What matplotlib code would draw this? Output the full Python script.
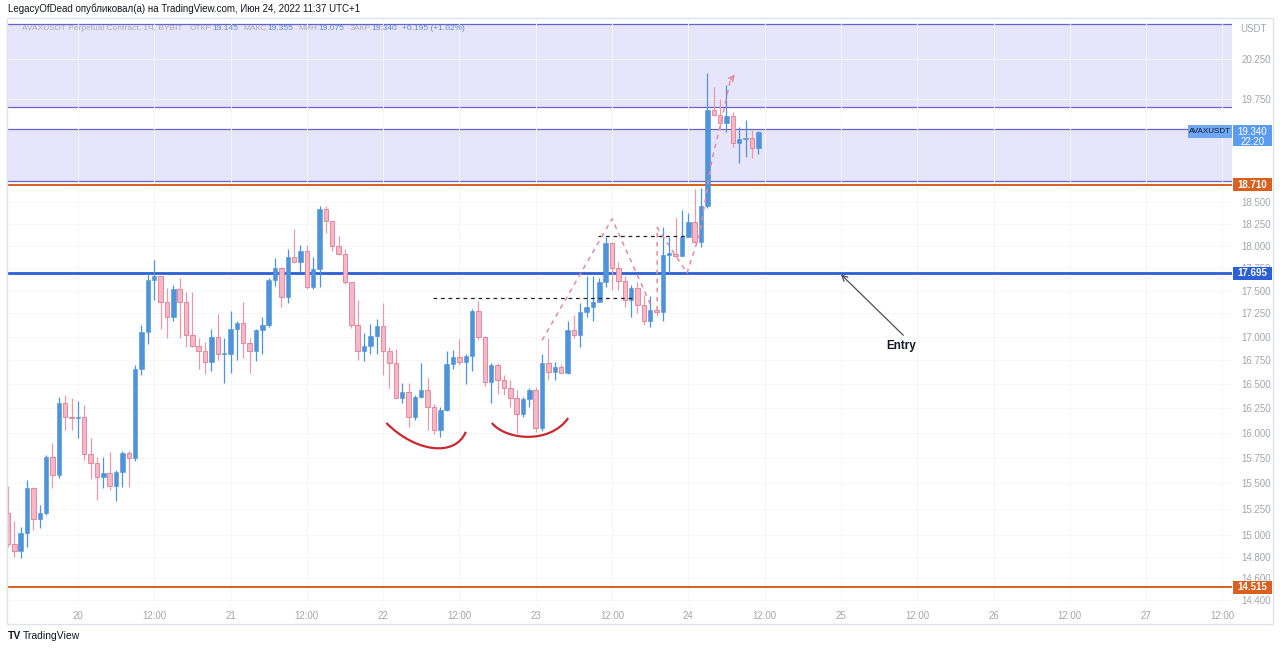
import numpy as np
import matplotlib.pyplot as plt
from matplotlib.patches import Rectangle, PathPatch
from matplotlib.path import Path
from matplotlib.ticker import FixedLocator, NullLocator, FuncFormatter

plt.rcParams['font.family'] = ['Liberation Sans Narrow', 'Liberation Sans', 'DejaVu Sans']

# AVAXUSDT 1h candles, first candle = Jun 19 13:00 (UTC+1)
opens = [15.21, 14.92, 14.85, 15.02, 15.45, 15.15, 15.21, 15.76, 15.58, 16.30,
         16.16, 16.15, 16.16, 15.79, 15.70, 15.56, 15.60, 15.47, 15.61, 15.80,
         15.75, 16.66, 17.05, 17.62, 17.66, 17.38, 17.21, 17.52, 17.38, 17.02,
         16.90, 16.85, 16.73, 17.00, 16.81, 16.82, 17.08, 17.15, 16.93, 16.85,
         17.07, 17.13, 17.62, 17.75, 17.43, 17.88, 17.82, 17.94, 17.54, 17.74,
         18.42, 18.28, 18.00, 17.91, 17.60, 17.12, 16.85, 16.90, 17.01, 17.11,
         16.85, 16.72, 16.35, 16.42, 16.16, 16.37, 16.44, 16.26, 16.03, 16.23,
         16.71, 16.78, 16.73, 16.79, 17.28, 17.00, 16.52, 16.70, 16.54, 16.46,
         16.36, 16.19, 16.34, 16.44, 16.05, 16.72, 16.63, 16.68, 16.61, 17.07,
         17.02, 17.27, 17.32, 17.38, 17.59, 18.03, 17.75, 17.61, 17.40, 17.53,
         17.34, 17.17, 17.29, 17.27, 17.90, 17.91, 17.89, 18.10, 18.27, 18.05,
         18.46, 19.61, 19.55, 19.45, 19.54, 19.20, 19.25, 19.27, 19.145]
highs = [15.47, 15.14, 15.08, 15.53, 15.46, 15.29, 15.78, 15.90, 16.37, 16.39,
         16.35, 16.32, 16.28, 15.95, 15.76, 15.76, 15.81, 15.63, 15.82, 15.82,
         16.70, 17.12, 17.695, 17.84, 17.66, 17.53, 17.56, 17.64, 17.49, 17.49,
         16.99, 16.94, 17.08, 17.24, 16.99, 17.28, 17.17, 17.38, 16.98, 17.08,
         17.21, 17.64, 17.86, 17.76, 17.96, 18.19, 18.01, 18.01, 17.88, 18.46,
         18.46, 18.29, 18.11, 17.97, 17.60, 17.40, 17.04, 17.14, 17.19, 17.36,
         16.89, 16.87, 16.51, 16.51, 16.39, 16.72, 16.56, 16.29, 16.26, 16.85,
         16.86, 16.97, 16.82, 17.30, 17.39, 17.01, 16.72, 16.72, 16.59, 16.54,
         16.44, 16.37, 16.46, 16.47, 16.82, 16.98, 16.73, 16.71, 17.17, 17.23,
         17.36, 17.66, 17.66, 17.64, 18.10, 18.05, 17.82, 17.66, 17.56, 17.60,
         17.45, 17.44, 17.33, 18.22, 18.10, 18.32, 18.41, 18.38, 18.66, 18.67,
         20.07, 19.90, 19.75, 19.92, 19.58, 19.40, 19.49, 19.36, 19.355]
lows = [14.89, 14.80, 14.79, 14.89, 15.05, 15.07, 15.19, 15.45, 15.55, 16.03,
        16.03, 15.95, 15.73, 15.54, 15.34, 15.45, 15.43, 15.33, 15.46, 15.46,
        15.72, 16.59, 16.92, 17.40, 17.08, 16.98, 17.17, 16.98, 16.89, 16.89,
        16.66, 16.60, 16.64, 16.75, 16.51, 16.61, 16.75, 16.77, 16.61, 16.74,
        16.82, 17.10, 17.55, 17.32, 17.36, 17.81, 17.71, 17.52, 17.52, 17.54,
        18.15, 17.94, 17.90, 17.57, 17.09, 16.75, 16.74, 16.82, 16.82, 16.59,
        16.46, 16.35, 16.30, 16.06, 16.13, 16.35, 16.03, 15.99, 15.96, 16.22,
        16.66, 16.70, 16.50, 16.64, 16.96, 16.48, 16.30, 16.40, 16.39, 16.26,
        16.00, 16.16, 16.26, 16.01, 16.02, 16.54, 16.54, 16.61, 16.60, 16.99,
        16.89, 17.21, 17.17, 17.38, 17.54, 17.51, 17.51, 17.32, 17.21, 17.25,
        17.12, 17.10, 17.22, 17.17, 17.69, 17.88, 17.89, 18.10, 18.03, 17.99,
        18.43, 19.54, 19.36, 19.34, 19.16, 18.97, 19.04, 19.03, 19.075]
closes = [14.92, 14.85, 15.02, 15.45, 15.15, 15.21, 15.76, 15.58, 16.30, 16.16,
          16.15, 16.16, 15.79, 15.70, 15.56, 15.60, 15.47, 15.61, 15.80, 15.75,
          16.66, 17.05, 17.62, 17.66, 17.38, 17.21, 17.52, 17.38, 17.02, 16.90,
          16.85, 16.73, 17.00, 16.81, 16.82, 17.08, 17.15, 16.93, 16.85, 17.07,
          17.13, 17.62, 17.75, 17.43, 17.88, 17.82, 17.94, 17.54, 17.74, 18.42,
          18.28, 18.00, 17.91, 17.60, 17.12, 16.85, 16.90, 17.01, 17.11, 16.85,
          16.72, 16.35, 16.42, 16.16, 16.37, 16.44, 16.26, 16.03, 16.23, 16.71,
          16.78, 16.73, 16.79, 17.28, 17.00, 16.52, 16.70, 16.54, 16.46, 16.36,
          16.19, 16.34, 16.44, 16.05, 16.72, 16.63, 16.68, 16.61, 17.07, 17.02,
          17.27, 17.32, 17.38, 17.59, 18.03, 17.75, 17.61, 17.40, 17.53, 17.34,
          17.17, 17.29, 17.27, 17.90, 17.91, 17.89, 18.10, 18.27, 18.05, 18.46,
          19.61, 19.55, 19.45, 19.54, 19.20, 19.25, 19.27, 19.145, 19.34]

time_labels = ['20', '12:00', '21', '12:00', '22', '12:00', '23', '12:00',
               '24', '12:00', '25', '12:00', '26', '12:00', '27', '12:00']
first_label_hour = 11   # Jun 20 00:00 is the 12th candle
price_ticks = [14.4, 14.6, 14.8, 15.0, 15.25, 15.5, 15.75, 16.0, 16.25, 16.5,
               16.75, 17.0, 17.25, 17.5, 17.75, 18.0, 18.25, 18.5, 19.75, 20.25]

# drawings
zone_upper = (19.65, 20.70)
zone_lower = (18.75, 19.38)
level_resist = 18.71
level_entry = 17.695
level_support = 14.515
neck_low = (66.9, 98.3, 17.42)
neck_high = (92.8, 106.5, 18.11)
wave_x = [84.0, 95.0, 101.1]
wave_y = [16.96, 18.31, 17.34]
flag_x = [102.1, 102.1, 106.8, 108.8, 110.7, 112.3, 113.6]
flag_y = [17.28, 18.21, 17.695, 18.14, 19.0, 19.51, 19.98]
cup_left = [(59.5, 16.10), (64.0, 15.81), (70.3, 15.75), (72.0, 16.01)]
cup_right = [(76.1, 16.10), (78.2, 15.93), (85.2, 15.88), (88.1, 16.15)]
entry_text = (140.4, 16.90)
entry_tip = (131.0, 17.68)

header_parts = [('AVAXUSDT Perpetual Contract, 1Ч, BYBIT', 'label', 6),
                ('ОТКР', 'label', 0), ('19.145', 'value', 4),
                ('МАКС', 'label', 0), ('19.355', 'value', 4),
                ('МИН', 'label', 0), ('19.075', 'value', 4),
                ('ЗАКР', 'label', 0), ('19.340', 'value', 4),
                ('+0.195 (+1.02%)', 'value', 0)]

up_col = '#4f93da'
dn_fill = '#f6b8c6'
dn_edge = '#e27d96'
dn_wick = '#e79aad'
zone_fill = '#e7e5fc'
zone_edge = '#6a62d0'
orange = '#d9601f'
blue_line = '#2c5ed6'
pink = '#e58aa3'
grey_txt = '#a3a6af'

fig = plt.figure(figsize=(12.8, 6.49), dpi=100)
W, H = 1280, 649
ax = fig.add_axes([7 / W, 44 / H, 1225 / W, 587 / H])
ax.set_yscale('log')
ax.set_xlim(-0.15, 192.5)
ax.set_ylim(14.355, 20.78)

o = np.array(opens)
h = np.array(highs)
l = np.array(lows)
c = np.array(closes)
x = np.arange(len(o))
up = c >= o
lo = np.minimum(o, c)
hi = np.maximum(np.maximum(o, c), lo * 1.0008)

ax.axhspan(*zone_upper, color=zone_fill, lw=0, zorder=0)
ax.axhspan(*zone_lower, color=zone_fill, lw=0, zorder=0)
for p in list(zone_upper) + list(zone_lower):
    ax.axhline(p, color=zone_edge, lw=0.9, zorder=1)
ax.axhline(level_resist, color=orange, lw=1.4, zorder=2)
ax.axhline(level_entry, color=blue_line, lw=2.0, zorder=2)
ax.axhline(level_support, color=orange, lw=1.4, zorder=2)

ax.vlines(x[up], l[up], h[up], color=up_col, lw=0.9, zorder=3)
ax.vlines(x[~up], l[~up], h[~up], color=dn_wick, lw=0.9, zorder=3)
ax.bar(x[up], hi[up] - lo[up], bottom=lo[up], width=0.7, color=up_col,
       edgecolor=up_col, lw=0.4, zorder=4)
ax.bar(x[~up], hi[~up] - lo[~up], bottom=lo[~up], width=0.7, color=dn_fill,
       edgecolor=dn_edge, lw=0.6, zorder=4)

# pattern drawings
for x0, x1, p in (neck_low, neck_high):
    ax.plot([x0, x1], [p, p], color='#222', lw=0.9, ls=(0, (3, 3)), zorder=5)
ax.plot(wave_x, wave_y, color=pink, lw=1.1, ls=(0, (3, 3)), zorder=5)
ax.plot(flag_x, flag_y, color=pink, lw=1.1, ls=(0, (3, 3)), zorder=5)
ax.annotate('', xy=(114.6, 20.08), xytext=(113.4, 19.96),
            arrowprops=dict(arrowstyle='->', color=pink, lw=1.1, mutation_scale=9),
            zorder=5)
for pts in (cup_left, cup_right):
    ax.add_patch(PathPatch(Path(pts, [Path.MOVETO, Path.CURVE4, Path.CURVE4, Path.CURVE4]),
                           fill=False, ec='#c8282e', lw=1.6, zorder=5))
ax.annotate('Entry', xy=entry_tip, xytext=entry_text, ha='center', va='center',
            fontsize=8.5, weight='bold', color='#131722',
            arrowprops=dict(arrowstyle='->', color='#4a4e5a', lw=0.9,
                            relpos=(0.75, 1.0), shrinkA=2, shrinkB=0, mutation_scale=10))

# axes styling
ax.xaxis.set_major_locator(FixedLocator([first_label_hour + 12 * i for i in range(len(time_labels))]))
ax.set_xticklabels(time_labels)
ax.yaxis.tick_right()
ax.yaxis.set_major_locator(FixedLocator(price_ticks))
ax.yaxis.set_minor_locator(NullLocator())
ax.yaxis.set_major_formatter(FuncFormatter(lambda v, pos: f'{v:.3f}'))
ax.tick_params(axis='both', length=0, colors=grey_txt, labelsize=7)
ax.tick_params(axis='x', pad=4)
ax.tick_params(axis='y', pad=7)
ax.grid(True, color='#f5f6f8', lw=0.7, zorder=-1)
for s in ax.spines.values():
    s.set_visible(False)

# overlay in pixel coordinates for header, price labels, frame
ov = fig.add_axes([0, 0, 1, 1], zorder=10)
ov.set_xlim(0, W)
ov.set_ylim(H, 0)
ov.axis('off')


def py(price):
    return H - ax.transData.transform((0, price))[1]


ov.add_patch(Rectangle((7, 18), 1266, 606, fill=False, ec='#e0e3eb', lw=1))
ov.text(8, 9, 'LegacyOfDead опубликовал(а) на TradingView.com, Июн 24, 2022 11:37 UTC+1',
        fontsize=7, color='#131722', va='center', ha='left')

# second header row: chain the pieces one after another
renderer = fig.canvas.get_renderer()
hx = 22
for txt, kind, gap in header_parts:
    col = '#a9acc4' if kind == 'label' else '#5a8fd0'
    t = ov.text(hx, 29, txt, fontsize=6, color=col, va='center', ha='left')
    hx = t.get_window_extent(renderer).x1 + 1 + gap

ov.text(1240, 29, 'USDT', fontsize=7, color=grey_txt, va='center', ha='left')

for p, col in ((level_resist, orange), (level_entry, blue_line), (level_support, orange)):
    y = py(p)
    ov.add_patch(Rectangle((1233, y - 6.5), 39, 13, fc=col, ec='none'))
    ov.text(1252.5, y, f'{p:.3f}', fontsize=7, color='white', weight='bold',
            ha='center', va='center')

last = closes[-1]
y = py(last)
ov.add_patch(Rectangle((1233, y - 6.5), 39, 21, fc='#5b9cf0', ec='none'))
ov.text(1252.5, y, f'{last:.3f}', fontsize=7, color='white', ha='center', va='center')
ov.text(1252.5, y + 10, '22:20', fontsize=7, color='white', ha='center', va='center')
ov.add_patch(Rectangle((1188, y - 6.5), 44, 13, fc='#6fa6f2', ec='none'))
ov.text(1210, y, 'AVAXUSDT', fontsize=5.8, color='#0d1b3e', ha='center', va='center')

ov.text(8, 636, 'TV', fontsize=7.5, weight='bold', color='#131722', va='center', ha='left')
ov.text(23, 636, 'TradingView', fontsize=7.5, color='#131722', va='center', ha='left')

fig.savefig('out.png', dpi=100)
